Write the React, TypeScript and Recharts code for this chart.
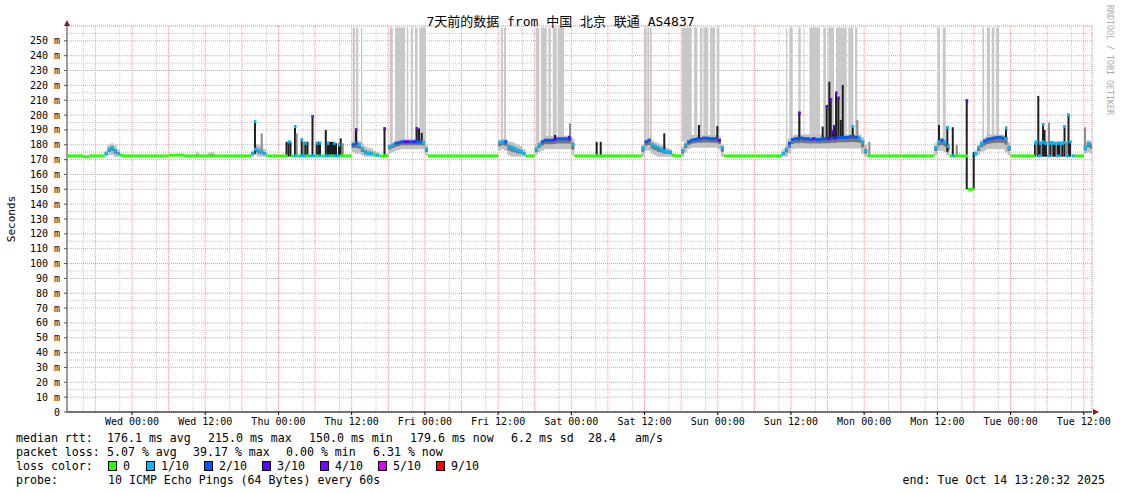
import {
  ComposedChart, XAxis, YAxis, CartesianGrid, Area, Scatter, ReferenceLine, ReferenceArea,
} from 'recharts';

const MONO = '"DejaVu Sans Mono", "Noto Sans CJK SC", monospace';

// time axis = hours since Tue 00:00, graph spans Tue 13:20:32 -> next Tue 13:20:32
const START_HOUR = 13.342;
const END_HOUR = 181.342;
const FIRST_SAMPLE = 13.5; // median samples every half hour from here

const DAY_NAMES = ['Tue', 'Wed', 'Thu', 'Fri', 'Sat', 'Sun', 'Mon', 'Tue'];
const LABEL_HOURS = [24, 36, 48, 60, 72, 84, 96, 108, 120, 132, 144, 156, 168, 180];
const RTT_TICKS = [0, 10, 20, 30, 40, 50, 60, 70, 80, 90, 100, 110, 120, 130, 140, 150, 160, 170, 180, 190, 200, 210, 220, 230, 240, 250];

const LOSS_COLORS = ['#26ff00', '#00b8ff', '#0059ff', '#5e00ff', '#7e00ff', '#dd00ff', '#ff0000', '#ff0000', '#ff0000', '#ff0000'];
const LOSS_LABELS = ['0', '1/10', '2/10', '3/10', '4/10', '5/10', '9/10'];
const LOSS_LEGEND_COLORS = ['#26ff00', '#00b8ff', '#0059ff', '#5e00ff', '#7e00ff', '#dd00ff', '#ff0000'];

// median rtt (ms), one value per half hour
const tueA = [172.5, 172.5, 172.5, 172.5, 172.5, 172, 172, 172.5, 172.5, 172.5, 172.5, 172.5,
  174, 177, 178, 176, 174, 173, 172.5, 172.5, 172.5];
const wed = [172.5, 172.5, 172.5, 172.5, 172.5, 172.5, 172.5, 172.5, 172.5, 172.5, 172.5, 172.5,
  173, 173, 173, 173, 173, 172.5, 172.5, 172.5, 172.5, 172.5, 172.5, 172.5,
  172.5, 172.5, 172.5, 172.5, 172.5, 172.5, 172.5, 172.5, 172.5, 172.5, 172.5, 172.5,
  172.5, 172.5, 172.5, 174, 177, 176, 175, 174, 172.5, 172.5, 172.5, 172.5];
const thu = [172.5, 172.5, 172.5, 182, 172.5, 172.5, 172.5, 172.5, 172.5, 172.5, 172.5, 172.5,
  172.5, 172.5, 172.5, 172.5, 172.5, 172.5, 172.5, 172.5, 172.5, 172.5, 172.5, 172.5,
  180, 181, 180, 177, 175, 174, 174, 173, 173, 172.5, 172.5, 172.5,
  179, 180, 181, 181.5, 182, 182, 182, 182, 182, 182, 182, 181.5];
const fri = [177, 172.5, 172.5, 172.5, 172.5, 172.5, 172.5, 172.5, 172.5, 172.5, 172.5, 172.5,
  172.5, 172.5, 172.5, 172.5, 172.5, 172.5, 172.5, 172.5, 172.5, 172.5, 172.5, 172.5,
  181.5, 182, 182, 179, 178, 177, 176, 175.5, 174, 172.5, 172.5, 172.5,
  177, 180, 182, 183, 183, 183, 183.5, 184, 184, 184, 184, 184];
const sat = [180, 172.5, 172.5, 172.5, 172.5, 172.5, 172.5, 172.5, 172.5, 172.5, 172.5, 172.5,
  172.5, 172.5, 172.5, 172.5, 172.5, 172.5, 172.5, 172.5, 172.5, 172.5, 172.5, 178,
  182, 183, 180, 179, 178, 177, 176, 175.5, 175, 173, 172.5, 172.5,
  176, 180, 182, 183, 183.5, 184, 184, 184.5, 184.5, 184, 184, 184];
const sun = [183, 178, 172.5, 172.5, 172.5, 172.5, 172.5, 172.5, 172.5, 172.5, 172.5, 172.5,
  172.5, 172.5, 172.5, 172.5, 172.5, 172.5, 172.5, 172.5, 172.5, 174, 177, 181,
  183.5, 184, 184, 184.5, 184, 184, 183.5, 184, 183.5, 183.5, 184, 184,
  184, 184.5, 184.5, 185, 185, 185, 185, 185.5, 185.5, 185, 184.5, 182];
const mon = [176, 172.5, 172.5, 172.5, 172.5, 172.5, 172.5, 172.5, 172.5, 172.5, 172.5, 172.5,
  172.5, 172.5, 172.5, 172.5, 172.5, 172.5, 172.5, 172.5, 172.5, 172.5, 172.5, 178,
  182, 183, 182, 179, 172.5, 172.5, 172.5, 172.5, 172.5, 172.5, 150, 150,
  174, 178, 181, 182.5, 183.5, 184, 184.5, 185, 185, 184.5, 184, 178];
const tueB = [172.5, 172.5, 172.5, 172.5, 172.5, 172.5, 172.5, 172.5,
  182, 172.5, 182, 181, 172.5, 181.5, 181, 172.5, 181, 181.5, 172.5, 182, 172.5,
  172.5, 172.5, 172.5, 178, 181, 180];

// loss per half hour, in tenths (0..9)
const tueALoss = '000000000000' + '111110000';
const wedLoss = '0000000000' + '0000000000' + '0000000000' + '000000000' + '11111' + '0000';
const thuLoss = '0001' + '01011011010110110' + '000' + '221111101000' + '112223323221';
const friLoss = '1' + '0000000000' + '0000000000' + '000' + '112111111' + '000' + '112222322222';
const satLoss = '1' + '0000000000' + '0000000000' + '00' + '1221111111' + '000' + '112222222222';
const sunLoss = '31' + '0000000000' + '000000000' + '112222222232222323222222211';
const monLoss = '1' + '0000000000' + '0000000000' + '00' + '11211' + '010000' + '00' + '111222222211';
const tueBLoss = '00000000' + '1111111111111' + '000' + '111';

// smoke spread around the median: [hour, low, high]
const smoke: [number, number, number][] = [
  [19.5, 172, 176], [20, 173, 180], [20.5, 173, 181], [21, 172, 179.5], [21.5, 172, 177], [22, 172, 174], [22.5, 172, 172.5],
  [34.5, 172, 175], [35, 172, 173], [36.5, 172, 175], [37, 172, 175], [37.5, 172, 173],
  [43.5, 172, 176], [44, 173, 180.5], [44.5, 172, 180], [45, 172, 179], [45.5, 172, 177], [46, 172, 173],
  [60, 175, 182.5], [60.5, 174, 183], [61, 174, 182.5], [61.5, 173, 181], [62, 172, 179], [62.5, 172, 178],
  [63, 172, 177.5], [63.5, 172, 176], [64, 172, 175], [64.5, 172, 173],
  [66, 174, 180.5], [66.5, 175, 181.5], [67, 176, 183], [67.5, 176.5, 183.5], [68, 177, 184], [68.5, 177, 184],
  [69, 177, 184], [69.5, 177, 184], [70, 177, 184], [70.5, 177, 184], [71, 177, 184], [71.5, 177, 184],
  [72, 173, 180], [72.5, 172, 173],
  [84, 176, 183.5], [84.5, 177, 184], [85, 176, 184], [85.5, 173, 182], [86, 172, 182], [86.5, 172, 181],
  [87, 172, 180], [87.5, 172, 179], [88, 172, 177], [88.5, 172, 173],
  [90, 173, 180], [90.5, 175, 182], [91, 176, 184], [91.5, 177, 186], [92, 177, 186], [92.5, 177, 186],
  [93, 177, 186], [93.5, 177, 186], [94, 177, 186], [94.5, 177, 186], [95, 177, 186], [95.5, 177, 186],
  [96, 173, 184], [96.5, 172, 173],
  [107.5, 172, 180], [108, 176, 184], [108.5, 176, 185], [109, 174, 183], [109.5, 173, 182], [110, 172, 181],
  [110.5, 172, 180], [111, 172, 179], [111.5, 172, 178], [112, 172, 177], [112.5, 172, 174], [113, 172, 172.5],
  [114, 172, 179], [114.5, 175, 182], [115, 177, 184], [115.5, 178, 186.5], [116, 178, 186.5], [116.5, 178, 186.5],
  [117, 178, 186.5], [117.5, 178, 186.5], [118, 178, 186.5], [118.5, 178, 186.5], [119, 178, 186.5], [119.5, 178, 186.5],
  [120, 177, 185.5], [120.5, 172, 180], [121, 172, 173],
  [130.5, 172, 177], [131, 172, 180], [131.5, 174, 184], [132, 177, 186], [132.5, 177.5, 187], [133, 177.5, 187],
  [133.5, 177.5, 187], [134, 177.5, 187], [134.5, 177.5, 187], [135, 177.5, 187], [135.5, 177.5, 187], [136, 177.5, 187],
  [136.5, 177.5, 187], [137, 177.5, 187], [137.5, 177.5, 187], [138, 177.5, 187], [138.5, 177.5, 187], [139, 177.5, 187],
  [139.5, 177.5, 187], [140, 177.5, 187], [140.5, 177.5, 187], [141, 177.5, 187], [141.5, 177.5, 187], [142, 177.5, 187],
  [142.5, 177.5, 187], [143, 177.5, 187], [143.5, 174, 185], [144, 172, 180], [144.5, 172, 173],
  [155.5, 173, 181], [156, 176, 184], [156.5, 176, 185], [157, 175, 184], [157.5, 173, 181], [158, 172, 173],
  [162, 172, 176], [162.5, 173, 180], [163, 175, 183], [163.5, 176, 185], [164, 177, 187], [164.5, 177, 187],
  [165, 177, 187], [165.5, 177, 187], [166, 177, 187], [166.5, 177, 187], [167, 175, 186], [167.5, 173, 182], [168, 172, 173],
  [180, 174, 181], [180.5, 175, 183], [181, 174, 182.5],
];

// periods with lost pings: [from hour, to hour, lower edge ms]
const lossBars: [number, number, number][] = [
  [60.17, 60.55, 181], [60.71, 61.09, 181], [61.53, 61.74, 178],
  [66.28, 66.73, 180], [67.1, 68.74, 182], [69.02, 69.28, 182], [69.68, 70.0, 182], [70.38, 70.82, 182], [71.09, 72.19, 181],
  [84.45, 84.78, 182], [84.97, 85.3, 182],
  [90.22, 90.76, 180], [91.03, 91.97, 183], [92.23, 92.63, 183], [92.96, 93.61, 184], [93.77, 94.81, 184],
  [107.96, 108.36, 182], [108.46, 108.78, 183], [108.9, 109.18, 181],
  [114.1, 115.74, 182], [116.12, 116.66, 184], [117.1, 117.48, 184], [117.64, 118.46, 184], [118.74, 119.56, 184], [119.83, 120.26, 183],
  [131.2, 131.41, 180], [131.73, 132.29, 183], [133.21, 133.6, 184], [134.06, 134.2, 184], [135.02, 136.77, 184],
  [137.3, 137.74, 184], [138.12, 139.06, 184], [139.39, 141.14, 185], [141.4, 142.22, 185], [142.5, 142.88, 185],
  [156.06, 156.43, 182], [156.88, 157.37, 182],
  [163.37, 163.65, 182], [164.09, 164.63, 184], [164.91, 165.34, 185], [165.62, 166.11, 185],
];

// single high pings: [hour, from ms, to ms, tip loss level (-1 none), light]
const spikes: [number, number, number, number, number][] = [
  [44.15, 174, 196.7, 1, 0], [45.25, 174, 187.7, -1, 1],
  [49.32, 172, 182, -1, 0], [49.65, 172, 182, -1, 0], [49.97, 172, 182, -1, 0],
  [50.71, 172, 193.3, 1, 0], [50.99, 172, 187.7, -1, 1], [51.81, 172, 184.3, 1, 0], [52.19, 172, 182, -1, 1],
  [52.44, 172, 182, 1, 0], [52.76, 172, 182, -1, 0], [53.58, 172, 200, 2, 0],
  [54.27, 172, 182, 1, 0], [54.57, 172, 182, -1, 0], [54.81, 172, 182, 1, 0], [55.76, 172, 190, -1, 0],
  [56.12, 172, 182, 1, 0], [56.45, 172, 182, -1, 0], [56.78, 172, 182, -1, 0], [57.1, 172, 182, 1, 0],
  [57.43, 172, 181, -1, 0], [57.92, 172, 181, 1, 0], [58.2, 172, 184.3, -1, 0], [58.53, 172, 181, -1, 1],
  [60.71, 180, 191, 3, 0], [65.38, 172, 191.8, 3, 0],
  [70.66, 182, 191.8, 3, 0], [71.04, 182, 191, -1, 0], [71.48, 182, 188, -1, 0],
  [93.33, 184, 186.6, -1, 0], [95.63, 183, 186, 3, 0], [95.79, 184, 194.4, -1, 1],
  [100.16, 172, 182, -1, 0], [100.82, 172, 182, -1, 0], [111.24, 176, 187.7, -1, 0],
  [116.93, 184, 193.3, -1, 0], [119.93, 184, 192.6, -1, 0],
  [133.37, 184, 202.3, 3, 0], [137.2, 184, 192.2, -1, 0], [137.86, 184, 206.8, 3, 0], [138.29, 184, 222.5, -1, 0],
  [138.52, 184, 211.3, 4, 0], [138.85, 184, 190, 3, 0], [139.06, 184, 193.3, 3, 0], [139.39, 184, 215.8, 4, 0],
  [139.77, 184, 212.4, 4, 0], [140.16, 184, 196.7, -1, 0], [140.49, 184, 220.3, -1, 0],
  [142.13, 185, 193.3, 1, 0], [142.88, 185, 196.7, -1, 1],
  [144.85, 172, 182, -1, 1], [156.27, 183, 193.3, -1, 0], [157.63, 175, 192.6, 1, 0], [158.52, 172, 191.8, -1, 0],
  [159.17, 172, 180, -1, 1], [160.81, 150, 210.6, 3, 0], [161.95, 150, 175, -1, 0], [167.25, 184, 192.2, 1, 0],
  [172.0, 172, 182, 1, 0], [172.25, 172, 182, -1, 1], [172.54, 172, 212.9, -1, 0], [172.82, 172, 182, 1, 0],
  [173.07, 172, 182, -1, 1], [173.32, 172, 194.6, 1, 0], [173.56, 172, 190, -1, 0], [173.81, 172, 182, 1, 0],
  [174.3, 172, 194.9, -1, 1], [174.54, 172, 182, 1, 0], [174.79, 172, 182, -1, 1], [175.03, 172, 182, 1, 0],
  [175.28, 172, 181, -1, 0], [175.53, 172, 182, -1, 1], [175.77, 172, 182, 1, 0], [176.02, 172, 182, -1, 0],
  [176.26, 172, 182, -1, 1], [176.51, 172, 182, 1, 0], [176.84, 172, 193.3, 1, 0], [177.08, 172, 182, -1, 1],
  [177.49, 172, 201, 1, 0], [177.74, 172, 182, -1, 0], [180.21, 178, 191.8, -1, 1],
];

// build table
const medianSeries = [...tueA, ...wed, ...thu, ...fri, ...sat, ...sun, ...mon, ...tueB];
const lossSeries = (tueALoss + wedLoss + thuLoss + friLoss + satLoss + sunLoss + monLoss + tueBLoss).split('').map(Number);
const smokeAt = new Map(smoke.map(([t, lo, hi]) => [t, [lo, hi]]));

const rows = medianSeries.map((v, i) => {
  const t = FIRST_SAMPLE + i / 2;
  const s = smokeAt.get(t);
  return {
    t,
    v,
    fill: LOSS_COLORS[lossSeries[i] || 0],
    outer: s ? [s[0], s[1]] : null,
    inner: s ? [v - (v - s[0]) * 0.45, v + (s[1] - v) * 0.35] : null,
  };
});
const table = [...rows, { ...rows[rows.length - 1], t: END_HOUR }];
const tips = spikes.filter((s) => s[3] >= 0).map((s) => ({ t: s[0], v: s[2], fill: LOSS_COLORS[s[3]] }));

const MINOR_HOURS: number[] = [];
for (let h = 14; h <= 180; h += 2) if (h % 6 !== 0) MINOR_HOURS.push(h);
const MAJOR_HOURS: number[] = [];
for (let h = 18; h <= 180; h += 6) MAJOR_HOURS.push(h);
const MINOR_RTT: number[] = [];
for (let v = 5; v <= 255; v += 10) MINOR_RTT.push(v);

const fmtHour = (h: number) => `${DAY_NAMES[Math.floor(h / 24)]} ${h % 24 === 0 ? '00' : '12'}:00`;

const MedianMark = (p: any) => (
  <rect x={p.cx} y={p.cy - 1.5} width={3.2} height={3} fill={p.payload.fill} />
);
const TipMark = (p: any) => (
  <rect x={p.cx - 1} y={p.cy} width={2.5} height={3} fill={p.payload.fill} />
);

const legendRows = [
  { y: 438, items: [[16, 'median rtt:'], [107, '176.1 ms avg'], [208, '215.0 ms max'], [309, '150.0 ms min'], [410, '179.6 ms now'], [511, '6.2 ms sd'], [588, '28.4'], [635, 'am/s']] },
  { y: 452, items: [[16, 'packet loss:'], [107, '5.07 % avg'], [193, '39.17 % max'], [286, '0.00 % min'], [373, '6.31 % now']] },
  { y: 480, items: [[16, 'probe:'], [108, '10 ICMP Echo Pings (64 Bytes) every 60s']] },
];
const lossBoxX = [108, 146, 204, 262, 320, 378, 436];

export default function App() {
  return (
    <div style={{ position: 'relative', width: 1121, height: 494, background: '#fff' }}>
      <style>{'body { margin: 0; }'}</style>
      <ComposedChart width={1121} height={494} data={table} margin={{ top: 26, right: 29, bottom: 0, left: 0 }}>
        <XAxis xAxisId="minor" type="number" dataKey="t" domain={[START_HOUR, END_HOUR]} ticks={MINOR_HOURS} hide allowDataOverflow />
        <XAxis xAxisId="major" type="number" dataKey="t" domain={[START_HOUR, END_HOUR]} ticks={MAJOR_HOURS} hide allowDataOverflow />
        <YAxis yAxisId="minor" type="number" domain={[0, 260]} ticks={MINOR_RTT} hide allowDataOverflow />
        <CartesianGrid xAxisId="minor" yAxisId="minor" stroke="#c8c8c8" strokeDasharray="1 1" />
        <CartesianGrid xAxisId="major" yAxisId={0} stroke="#f29a9a" strokeDasharray="1 1" />

        {lossBars.map(([a, b, lo], i) => (
          <ReferenceArea key={`lb${i}`} x1={a} x2={b} y1={lo} y2={259} fill="#c8c8c8" fillOpacity={1} stroke="none" zIndex={50} />
        ))}

        <Area dataKey="outer" type="stepAfter" stroke="none" fill="#c2c2c2" fillOpacity={1} isAnimationActive={false} zIndex={100} />
        <Area dataKey="inner" type="stepAfter" stroke="none" fill="#767676" fillOpacity={1} isAnimationActive={false} zIndex={110} />

        {spikes.map(([t, lo, hi, , light], i) => (
          <ReferenceLine key={`sp${i}`} segment={[{ x: t, y: lo }, { x: t, y: hi }]} stroke={light ? '#8a8a8a' : '#1e1e1e'} strokeWidth={2} zIndex={300} />
        ))}

        <Scatter data={rows} dataKey="v" shape={MedianMark} isAnimationActive={false} zIndex={600} />
        <Scatter data={tips} dataKey="v" shape={TipMark} isAnimationActive={false} zIndex={650} />

        <XAxis
          type="number" dataKey="t" domain={[START_HOUR, END_HOUR]} ticks={LABEL_HOURS} interval={0}
          allowDataOverflow height={82} tickFormatter={fmtHour} tickSize={3} tickMargin={3}
          axisLine={{ stroke: '#000' }} tickLine={{ stroke: '#000' }}
          tick={{ fontSize: 10, fontFamily: MONO, fill: '#000' }}
        />
        <YAxis
          type="number" domain={[0, 260]} ticks={RTT_TICKS} interval={0} allowDataOverflow width={67}
          tickFormatter={(v: number) => (v === 0 ? '0' : `${v} m`)} tickSize={3} tickMargin={4}
          axisLine={{ stroke: '#555' }} tickLine={{ stroke: '#555' }}
          tick={{ fontSize: 10, fontFamily: MONO, fill: '#000' }}
        />
      </ComposedChart>

      <svg width={1121} height={494} style={{ position: 'absolute', left: 0, top: 0, pointerEvents: 'none' }}>
        <polygon points="64,26 70,26 67,20" fill="#8b1a1a" />
        <polygon points="1093,409 1093,415 1099,412" fill="#8b1a1a" />
        <text x={560.5} y={21} textAnchor="middle" dominantBaseline="central" fontSize={13} fontFamily={MONO}>
          7天前的数据 from 中国 北京 联通 AS4837
        </text>
        <text x={11} y={219} textAnchor="middle" dominantBaseline="central" fontSize={11} fontFamily={MONO} transform="rotate(-90 11 219)">
          Seconds
        </text>
        <text x={1110} y={60} textAnchor="middle" dominantBaseline="central" fontSize={8.3} fontFamily={MONO} fill="#aaa" transform="rotate(90 1110 60)">
          RRDTOOL / TOBI OETIKER
        </text>
        {legendRows.map((row) => row.items.map(([x, s]) => (
          <text key={`${row.y}-${x}`} x={x as number} y={row.y} dominantBaseline="central" fontSize={11.6} fontFamily={MONO} style={{ whiteSpace: 'pre' }}>
            {s}
          </text>
        )))}
        <text x={16} y={466} dominantBaseline="central" fontSize={11.6} fontFamily={MONO}>loss color:</text>
        {LOSS_LABELS.map((lab, i) => (
          <g key={lab}>
            <rect x={lossBoxX[i] + 0.5} y={461.5} width={8} height={9} fill={LOSS_LEGEND_COLORS[i]} stroke="#000" strokeWidth={1} />
            <text x={lossBoxX[i] + 15} y={466} dominantBaseline="central" fontSize={11.6} fontFamily={MONO}>{lab}</text>
          </g>
        ))}
        <text x={1105} y={480} textAnchor="end" dominantBaseline="central" fontSize={11.6} fontFamily={MONO}>
          end: Tue Oct 14 13:20:32 2025
        </text>
      </svg>
    </div>
  );
}
